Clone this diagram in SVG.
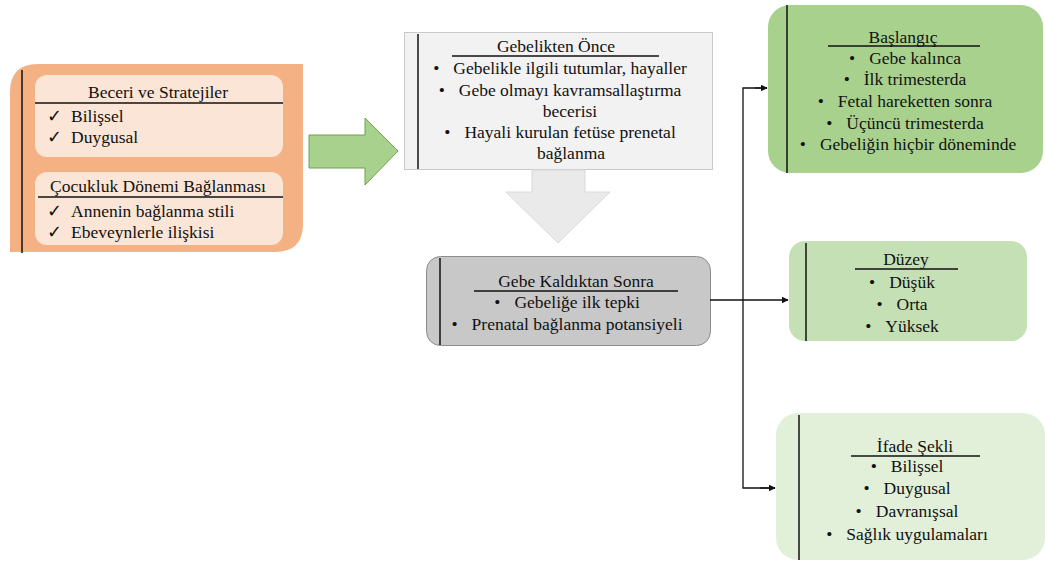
<svg xmlns="http://www.w3.org/2000/svg" width="1045" height="562" viewBox="0 0 1045 562">
<defs>
<style>
text{font-family:"Liberation Serif","Times New Roman",serif;font-size:17.5px;fill:#111}
.c{text-anchor:middle}
.ul{stroke:#111;stroke-width:1.3}
.vl{stroke:#111;stroke-width:1.5}
.con{fill:none;stroke:#111;stroke-width:1.3}
</style>
<marker id="ah" viewBox="0 0 10 10" refX="9" refY="5" markerWidth="7" markerHeight="7" orient="auto" markerUnits="userSpaceOnUse">
<path d="M0,0 L10,5 L0,10 z" fill="#111"/>
</marker>
</defs>
<rect width="1045" height="562" fill="#fff"/>

<g id="left-panel">
<path d="M38,64 H303 V224 Q303,252 275,252 H10 V92 Q10,64 38,64 Z" fill="#F4B183"/>
<line class="vl" x1="22" y1="70" x2="22" y2="253"/>
<rect x="35" y="75" width="248" height="82" rx="12" fill="#FBE5D6"/>
<text class="c" x="158" y="98">Beceri ve Stratejiler</text>
<line class="ul" x1="35" y1="103" x2="283" y2="103"/>
<text x="47" y="122">✓</text><text x="71" y="122">Bilişsel</text>
<text x="47" y="143">✓</text><text x="71" y="143">Duygusal</text>
<rect x="35" y="172" width="248" height="73" rx="12" fill="#FBE5D6"/>
<text class="c" x="158" y="192">Çocukluk Dönemi Bağlanması</text>
<line class="ul" x1="38" y1="197" x2="283" y2="197"/>
<text x="47" y="217">✓</text><text x="71" y="217">Annenin bağlanma stili</text>
<text x="47" y="238">✓</text><text x="71" y="238">Ebeveynlerle ilişkisi</text>
</g>

<g id="green-arrow">
<path d="M309,135 H365 V118 L398,151 L365,185 V168 H309 Z" fill="#A9D18E" stroke="#6FA34C" stroke-width="1"/>
</g>

<g id="before-pregnancy">
<rect x="404.5" y="32.5" width="308" height="137" fill="#F2F2F2" stroke="#C9C9C9" stroke-width="1"/>
<line class="vl" x1="418" y1="34" x2="418" y2="169"/>
<text class="c" x="556" y="52">Gebelikten Önce</text>
<line class="ul" x1="452" y1="56" x2="659" y2="56"/>
<text class="c" x="560" y="74">•<tspan dx="14">Gebelikle ilgili tutumlar, hayaller</tspan></text>
<text class="c" x="560" y="96">•<tspan dx="14">Gebe olmayı kavramsallaştırma</tspan></text>
<text class="c" x="570" y="117">becerisi</text>
<text class="c" x="560" y="138">•<tspan dx="14">Hayali kurulan fetüse prenetal</tspan></text>
<text class="c" x="571" y="159">bağlanma</text>
</g>

<g id="down-arrow">
<path d="M532,170 H585 V192 H610 L558,243 L506,192 H532 Z" fill="#EAEAEA" stroke="#DADADA" stroke-width="1"/>
</g>

<g id="after-pregnancy">
<rect x="426.5" y="256.5" width="284" height="89" rx="14" fill="#C8C8C8" stroke="#8C8C8C" stroke-width="1"/>
<line class="vl" x1="440" y1="258" x2="440" y2="345"/>
<text class="c" x="576" y="287">Gebe Kaldıktan Sonra</text>
<line class="ul" x1="474" y1="291" x2="678" y2="291"/>
<text class="c" x="567" y="308">•<tspan dx="14">Gebeliğe ilk tepki</tspan></text>
<text class="c" x="567" y="330">•<tspan dx="14">Prenatal bağlanma potansiyeli</tspan></text>
</g>

<g id="connectors">
<line class="con" x1="710" y1="300" x2="788" y2="300" marker-end="url(#ah)"/>
<polyline class="con" points="767,88 743,88 743,488 775,488"/>
<line class="con" x1="755" y1="88" x2="767" y2="88" marker-end="url(#ah)"/>
<line class="con" x1="760" y1="488" x2="775" y2="488" marker-end="url(#ah)"/>
</g>

<g id="baslangic">
<rect x="768" y="5" width="275" height="168" rx="22" fill="#A9D18E"/>
<line class="vl" x1="787" y1="5" x2="787" y2="173"/>
<text class="c" x="903" y="43">Başlangıç</text>
<line class="ul" x1="828" y1="46" x2="980" y2="46"/>
<text class="c" x="905" y="64">•<tspan dx="14">Gebe kalınca</tspan></text>
<text class="c" x="905" y="85">•<tspan dx="14">İlk trimesterda</tspan></text>
<text class="c" x="905" y="107">•<tspan dx="14">Fetal hareketten sonra</tspan></text>
<text class="c" x="905" y="129">•<tspan dx="14">Üçüncü trimesterda</tspan></text>
<text class="c" x="908" y="150">•<tspan dx="14">Gebeliğin hiçbir döneminde</tspan></text>
</g>

<g id="duzey">
<rect x="789" y="241" width="238" height="100" rx="16" fill="#C5E0B4"/>
<line class="vl" x1="806" y1="243" x2="806" y2="341"/>
<text class="c" x="906" y="265">Düzey</text>
<line class="ul" x1="855" y1="269" x2="958" y2="269"/>
<text class="c" x="902" y="288">•<tspan dx="14">Düşük</tspan></text>
<text class="c" x="902" y="310">•<tspan dx="14">Orta</tspan></text>
<text class="c" x="902" y="332">•<tspan dx="14">Yüksek</tspan></text>
</g>

<g id="ifade-sekli">
<rect x="776" y="413" width="269" height="147" rx="22" fill="#E2F0D9"/>
<line class="vl" x1="799" y1="415" x2="799" y2="560"/>
<text class="c" x="915" y="452">İfade Şekli</text>
<line class="ul" x1="851" y1="456" x2="980" y2="456"/>
<text class="c" x="907" y="472">•<tspan dx="14">Bilişsel</tspan></text>
<text class="c" x="907" y="494">•<tspan dx="14">Duygusal</tspan></text>
<text class="c" x="907" y="517">•<tspan dx="14">Davranışsal</tspan></text>
<text class="c" x="907" y="540">•<tspan dx="14">Sağlık uygulamaları</tspan></text>
</g>
</svg>
